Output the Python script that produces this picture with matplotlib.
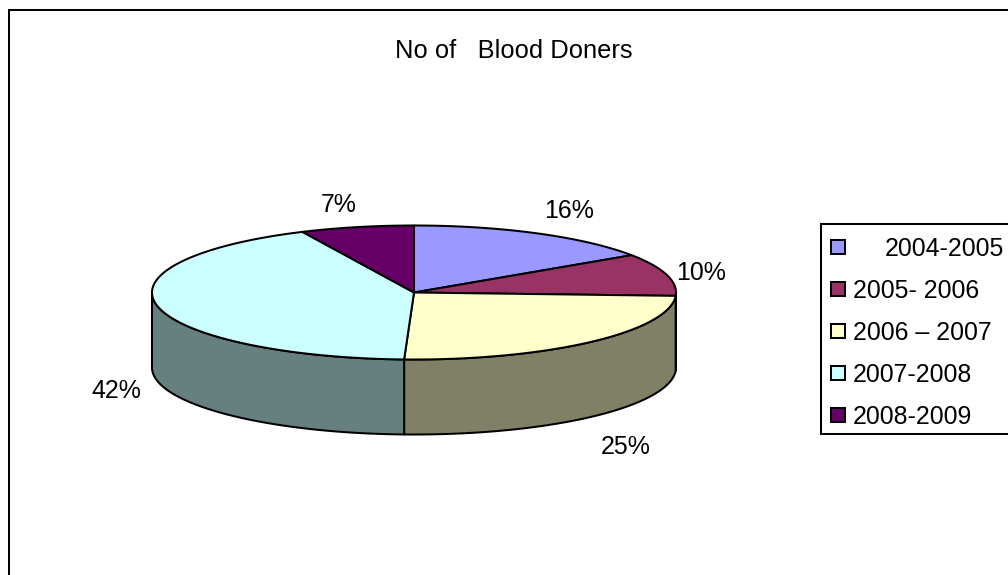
import numpy as np
import matplotlib
matplotlib.use('Agg')
import matplotlib.pyplot as plt
from matplotlib.patches import Polygon, Rectangle

plt.rcParams['font.family'] = ['Liberation Sans', 'DejaVu Sans']

# Shares, the labels show them rounded
title = 'No of   Blood Doners'
years = ['2004-2005', '2005- 2006', '2006 \u2013 2007', '2007-2008', '2008-2009']
shares = [15.6, 10.2, 24.8, 42.4, 7.0]
top_colors = ['#9999FF', '#993366', '#FFFFCC', '#CCFFFF', '#660066']
wall_colors = ['#4D4D80', '#4D1A33', '#808066', '#668080', '#330033']
label_pos = [(569, 210.5), (701, 272.5), (626, 446.5), (116, 390.5), (339, 205.5)]
legend_x = [885, 853, 853, 853, 853]

# Pie geometry in image pixels
CX, CY = 414, 292.5
RX, RY = 262, 67
DEPTH = 75
LW = 1.45
FONT = 17.9


def arc(start, end, drop=0):
    # angles clockwise from twelve o'clock, in degrees
    t = np.radians(np.linspace(start, end, max(int(abs(end - start) * 2), 2)))
    return np.column_stack([CX + RX * np.sin(t), CY - RY * np.cos(t) + drop])


fig = plt.figure(figsize=(10.08, 5.75), dpi=100)
ax = fig.add_axes([0, 0, 1, 1])
ax.set_xlim(0, 1008)
ax.set_ylim(575, 0)
ax.axis('off')

# Chart frame, open on the right and at the bottom of the crop
ax.plot([9, 9, 1008], [575, 10, 10], color='black', lw=LW, solid_joinstyle='miter')

ax.text(514, 51.5, title, fontsize=18.4, ha='center', va='center')

edges = 3.6 * np.cumsum([0] + shares)

# Side walls first: only the front half of the rim can be seen
for i in range(len(shares)):
    a, b = max(edges[i], 90), min(edges[i + 1], 270)
    if b <= a:
        continue
    pts = np.vstack([arc(a, b), arc(a, b, DEPTH)[::-1]])
    ax.add_patch(Polygon(pts, closed=True, fc=wall_colors[i], ec='black', lw=LW, joinstyle='round'))

# Top faces
for i in range(len(shares)):
    pts = np.vstack([[CX, CY], arc(edges[i], edges[i + 1])])
    ax.add_patch(Polygon(pts, closed=True, fc=top_colors[i], ec='black', lw=LW, joinstyle='round'))

for share, (x, y) in zip(shares, label_pos):
    ax.text(x, y, f'{round(share)}%', fontsize=FONT, ha='center', va='center')

# Legend, cut off by the right edge of the image
ax.plot([1008, 821, 821, 1008], [224, 224, 434, 434], color='black', lw=LW, solid_joinstyle='miter')
for i, year in enumerate(years):
    y = 247 + 42 * i
    ax.add_patch(Rectangle((831, y - 7), 14, 14, fc=top_colors[i], ec='black', lw=LW))
    ax.text(legend_x[i], y + 2.5, year, fontsize=FONT, ha='left', va='center')

fig.savefig('out.png', dpi=100)
